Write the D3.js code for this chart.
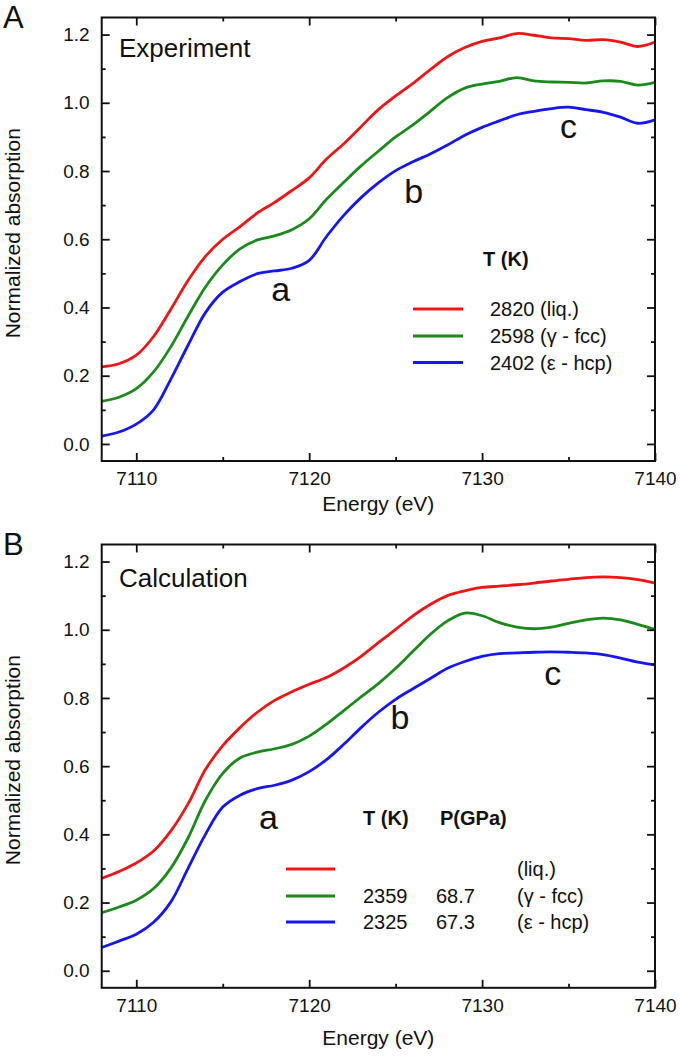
<!DOCTYPE html>
<html><head><meta charset="utf-8">
<script src="https://cdn.jsdelivr.net/npm/d3@7"></script>
<style>
body{margin:0;background:#fff}
text{font-family:"Liberation Sans",Arial,Helvetica,sans-serif;fill:#111}
</style>
</head><body>
<svg id="chart" width="680" height="1057"></svg>
<script>
// ---------- data ----------
const energy = [7108,7109,7110,7111,7112,7113,7114,7115,7116,7117,7118,7119,7120,7121,7122,7123,7124,7125,7126,7127,7128,7129,7130,7131,7132,7133,7134,7135,7136,7137,7138,7139,7140];

const expLiq = [0.226,0.235,0.26,0.315,0.395,0.48,0.55,0.60,0.637,0.677,0.708,0.743,0.78,0.835,0.88,0.93,0.98,1.02,1.057,1.097,1.135,1.162,1.18,1.19,1.203,1.198,1.19,1.188,1.183,1.185,1.178,1.165,1.178];
const expFcc = [0.125,0.137,0.162,0.211,0.285,0.375,0.46,0.525,0.572,0.598,0.61,0.628,0.66,0.717,0.767,0.815,0.858,0.90,0.935,0.975,1.015,1.043,1.055,1.063,1.074,1.064,1.061,1.06,1.058,1.064,1.063,1.052,1.06];
const expHcp = [0.023,0.035,0.058,0.10,0.19,0.29,0.385,0.445,0.476,0.499,0.507,0.515,0.538,0.608,0.67,0.722,0.765,0.801,0.827,0.85,0.876,0.905,0.928,0.947,0.965,0.975,0.983,0.987,0.98,0.972,0.958,0.94,0.95];

const calcLiq = [0.271,0.291,0.316,0.351,0.41,0.49,0.59,0.66,0.713,0.758,0.793,0.818,0.84,0.86,0.888,0.922,0.962,1.001,1.041,1.074,1.10,1.114,1.124,1.128,1.132,1.137,1.143,1.148,1.153,1.155,1.153,1.147,1.137];
const calcFcc = [0.17,0.187,0.207,0.241,0.301,0.39,0.50,0.579,0.624,0.641,0.651,0.664,0.688,0.723,0.763,0.803,0.842,0.887,0.937,0.986,1.026,1.049,1.041,1.021,1.008,1.003,1.008,1.019,1.029,1.034,1.029,1.016,1.001];
const calcHcp = [0.068,0.087,0.107,0.142,0.202,0.301,0.40,0.48,0.515,0.534,0.544,0.559,0.584,0.619,0.664,0.713,0.758,0.796,0.827,0.857,0.887,0.907,0.922,0.93,0.932,0.934,0.935,0.934,0.932,0.927,0.917,0.905,0.897];

const xMajorTicks = [7110,7120,7130,7140];
const xMinorTicks = [7115,7125,7135];
const yMajorTicks = [0.0,0.2,0.4,0.6,0.8,1.0,1.2];
const yMinorTicks = [0.1,0.3,0.5,0.7,0.9,1.1];

const seriesColors = ["#f01515","#1a8a1a","#1616f0"];

const expLegendTemps = ["2820","2598","2402"];
const expLegendPhases = ["(liq.)","(\u03b3 - fcc)","(\u03b5 - hcp)"];
const calcLegendTemps = ["","2359","2325"];
const calcLegendPress = ["","68.7","67.3"];
const calcLegendPhases = ["(liq.)","(\u03b3 - fcc)","(\u03b5 - hcp)"];

// annotations: [label, energy, value]
const expNotes = [["a",7117.8,0.42],["b",7125.5,0.707],["c",7134.5,0.896]];
const calcNotes = [["a",7117.1,0.417],["b",7124.7,0.708],["c",7133.6,0.837]];

// ---------- drawing ----------
const svg = d3.select("#chart");
const L = 101.7, R = 655;

const panels = [
  {letter:"A", title:"Experiment", top:17.5, bottom:461, titleDy:39, xTitleDy:50, series:[expLiq,expFcc,expHcp], notes:expNotes, legend:"exp"},
  {letter:"B", title:"Calculation", top:544.5, bottom:987.8, titleDy:42, xTitleDy:57, series:[calcLiq,calcFcc,calcHcp], notes:calcNotes, legend:"calc"}
];

panels.forEach(p => {
  const g = svg.append("g");
  const x = d3.scaleLinear().domain([7108,7140]).range([L,R]);
  const y = d3.scaleLinear().domain([-0.05,1.25]).range([p.bottom,p.top]);

  // curves
  const line = d3.line().x((d,i)=>x(energy[i])).y(d=>y(d)).curve(d3.curveCatmullRom.alpha(0.5));
  g.append("g").selectAll("path").data(p.series).join("path")
    .attr("d", line).attr("fill","none")
    .attr("stroke",(d,i)=>seriesColors[i]).attr("stroke-width",2.8)
    .attr("stroke-linejoin","round");

  // axes
  const fs = "19px";
  g.append("g").attr("transform",`translate(0,${p.bottom})`)
    .call(d3.axisBottom(x).tickValues(xMajorTicks).tickSizeInner(-8).tickSizeOuter(0).tickPadding(11).tickFormat(d3.format("d")));
  g.append("g").attr("transform",`translate(0,${p.bottom})`)
    .call(d3.axisBottom(x).tickValues(xMinorTicks).tickSizeInner(-4).tickSizeOuter(0).tickFormat(""));
  g.append("g").attr("transform",`translate(0,${p.top})`)
    .call(d3.axisTop(x).tickValues(xMajorTicks).tickSizeInner(-8).tickSizeOuter(0).tickFormat(""));
  g.append("g").attr("transform",`translate(0,${p.top})`)
    .call(d3.axisTop(x).tickValues(xMinorTicks).tickSizeInner(-4).tickSizeOuter(0).tickFormat(""));
  g.append("g").attr("transform",`translate(${L},0)`)
    .call(d3.axisLeft(y).tickValues(yMajorTicks).tickSizeInner(-8).tickSizeOuter(0).tickPadding(12).tickFormat(d3.format(".1f")));
  g.append("g").attr("transform",`translate(${L},0)`)
    .call(d3.axisLeft(y).tickValues(yMinorTicks).tickSizeInner(-4).tickSizeOuter(0).tickFormat(""));
  g.append("g").attr("transform",`translate(${R},0)`)
    .call(d3.axisRight(y).tickValues(yMajorTicks).tickSizeInner(-8).tickSizeOuter(0).tickFormat(""));
  g.append("g").attr("transform",`translate(${R},0)`)
    .call(d3.axisRight(y).tickValues(yMinorTicks).tickSizeInner(-4).tickSizeOuter(0).tickFormat(""));
  g.selectAll(".domain").remove();
  g.selectAll(".tick line").attr("stroke","#111").attr("stroke-width",1.8);
  g.selectAll(".tick text").attr("font-size",fs).attr("font-family",'"Liberation Sans",Arial,sans-serif').attr("fill","#111");

  // frame
  g.append("rect").attr("x",L).attr("y",p.top).attr("width",R-L).attr("height",p.bottom-p.top)
    .attr("fill","none").attr("stroke","#111").attr("stroke-width",2);

  // axis titles
  g.append("text").attr("x",(L+R)/2).attr("y",p.bottom+p.xTitleDy).attr("text-anchor","middle")
    .attr("font-size","21px").text("Energy (eV)");
  g.append("text").attr("transform",`translate(20,${(p.top+p.bottom)/2 - 6}) rotate(-90)`)
    .attr("text-anchor","middle").attr("font-size","21px").text("Normalized absorption");

  // panel letter and title
  g.append("text").attr("x",3).attr("y",p.top+10).attr("font-size","31px").text(p.letter);
  g.append("text").attr("x",119).attr("y",p.top+p.titleDy).attr("font-size","26px").text(p.title);

  // annotations
  g.selectAll("text.note").data(p.notes).join("text").attr("class","note")
    .attr("x",d=>x(d[1])).attr("y",d=>y(d[2])).attr("font-size","34px").text(d=>d[0]);

  // legend
  if (p.legend === "exp") {
    const lg = g.append("g");
    lg.append("text").attr("x",483).attr("y",266).attr("font-size","20px").attr("font-weight","bold").text("T (K)");
    const rows = [309,336,362.5];
    rows.forEach((ry,i)=>{
      lg.append("line").attr("x1",413).attr("x2",463).attr("y1",ry).attr("y2",ry)
        .attr("stroke",seriesColors[i]).attr("stroke-width",3);
      lg.append("text").attr("x",490).attr("y",ry+7).attr("font-size","20px")
        .text(expLegendTemps[i]+" "+expLegendPhases[i]);
    });
  } else {
    const lg = g.append("g");
    lg.append("text").attr("x",363).attr("y",825).attr("font-size","20px").attr("font-weight","bold").text("T (K)");
    lg.append("text").attr("x",440).attr("y",825).attr("font-size","20px").attr("font-weight","bold").text("P(GPa)");
    const rows = [869,896,922];
    rows.forEach((ry,i)=>{
      lg.append("line").attr("x1",286).attr("x2",335).attr("y1",ry).attr("y2",ry)
        .attr("stroke",seriesColors[i]).attr("stroke-width",3);
      lg.append("text").attr("x",363).attr("y",ry+7).attr("font-size","20px").text(calcLegendTemps[i]);
      lg.append("text").attr("x",436).attr("y",ry+7).attr("font-size","20px").text(calcLegendPress[i]);
      lg.append("text").attr("x",517).attr("y",ry+7).attr("font-size","20px").text(calcLegendPhases[i]);
    });
  }
});
</script>
</body></html>
